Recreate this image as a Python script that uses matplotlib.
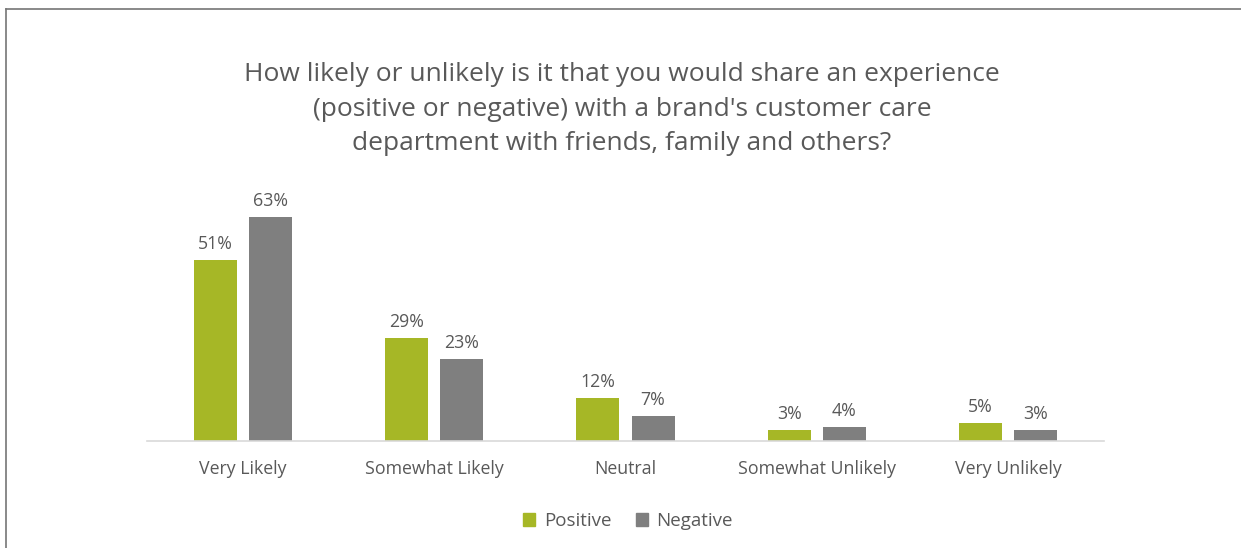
import matplotlib
matplotlib.use("Agg")
import matplotlib.pyplot as plt
from matplotlib.patches import Patch
from matplotlib.lines import Line2D
import numpy as np

categories = ["Very Likely", "Somewhat Likely", "Neutral", "Somewhat Unlikely", "Very Unlikely"]
positive = [51, 29, 12, 3, 5]
negative = [63, 23, 7, 4, 3]
series_names = ["Positive", "Negative"]
title = ("How likely or unlikely is it that you would share an experience\n"
         "(positive or negative) with a brand's customer care\n"
         "department with friends, family and others?")

GREEN = "#A6B726"
GRAY = "#7F7F7F"
TEXT = "#595959"

plt.rcParams["font.family"] = ["Open Sans", "DejaVu Sans"]

W, H = 1241, 548
fig = plt.figure(figsize=(W / 100, H / 100), dpi=100)

# frame lines along top and left edge
fig.add_artist(Line2D([6 / W, 6 / W], [0, 1 - 9 / H], transform=fig.transFigure, color="#767676", lw=1.2))
fig.add_artist(Line2D([6 / W, 1], [1 - 9 / H, 1 - 9 / H], transform=fig.transFigure, color="#767676", lw=1.2))

ymax = 70
px_per_unit = 224 / 63
ax_h = ymax * px_per_unit
ax = fig.add_axes([147 / W, (H - 441) / H, (1104 - 147) / W, ax_h / H])

x = np.arange(len(categories))
bw = 0.225
off = 0.144
b1 = ax.bar(x - off, positive, bw, color=GREEN)
b2 = ax.bar(x + off, negative, bw, color=GRAY)

for bars, vals in ((b1, positive), (b2, negative)):
    for rect, v in zip(bars, vals):
        ax.annotate(f"{v}%", (rect.get_x() + rect.get_width() / 2, v),
                    xytext=(0, 5), textcoords="offset points",
                    ha="center", va="bottom", fontsize=12.8, color=TEXT)

ax.set_xlim(-0.5, len(categories) - 0.5)
ax.set_ylim(0, ymax)
ax.set_xticks(x)
ax.set_xticklabels(categories, fontsize=12.8, color=TEXT)
ax.tick_params(axis="x", length=0, pad=13.5)
ax.set_yticks([])
for s in ("top", "right", "left"):
    ax.spines[s].set_visible(False)
ax.spines["bottom"].set_color("#D9D9D9")
ax.spines["bottom"].set_linewidth(1.2)

fig.text(622 / W, 1 - 109 / H, title, ha="center", va="center",
         fontsize=19, color=TEXT, linespacing=1.52)

handles = [Patch(color=GREEN, label=series_names[0]), Patch(color=GRAY, label=series_names[1])]
fig.legend(handles=handles, loc="center", bbox_to_anchor=(628 / W, 1 - 521 / H),
           ncol=2, frameon=False, fontsize=13.5, labelcolor=TEXT,
           handlelength=0.65, handleheight=0.65, handletextpad=0.45, columnspacing=1.3)

fig.savefig("out.png", dpi=100, facecolor="white")
